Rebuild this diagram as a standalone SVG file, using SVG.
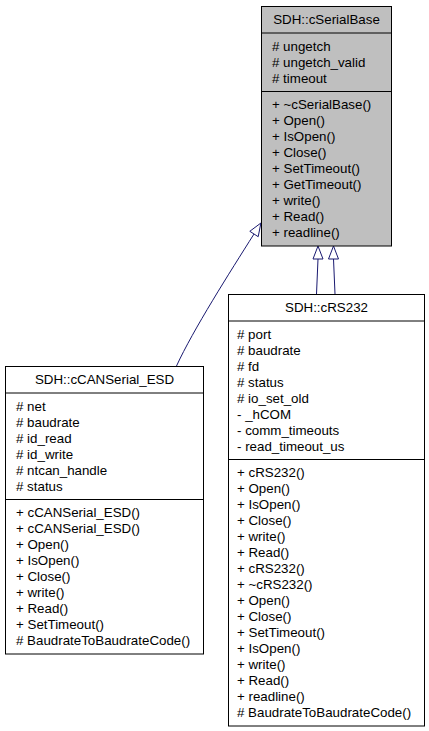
<svg xmlns="http://www.w3.org/2000/svg" width="429" height="731" viewBox="0 0 429 731">
<style>
text{font-family:"Liberation Sans",Arial,Helvetica,sans-serif;font-size:13.33px;fill:#000}
.t{text-anchor:middle}
.box{stroke:#000;stroke-width:1}
.div{stroke:#000;stroke-width:1}
.edge{fill:none;stroke:#191970;stroke-width:1}
.head{fill:#fff;stroke:#191970;stroke-width:1}
</style>
<rect width="429" height="731" fill="#fff"/>
<g id="connectors">
<path class="edge" d="M176.5,366 C193,330 230,272 254,234"/>
<polygon class="head" points="260.9,223 258.2,236.7 249.8,231.3"/>
<path class="edge" d="M316.5,294 L318,259"/>
<polygon class="head" points="318,246 313,259 323,259"/>
<path class="edge" d="M335,294 L333.5,259"/>
<polygon class="head" points="333.5,246 328.5,259 338.5,259"/>
</g>
<g id="cSerialBase">
<rect class="box" x="261.5" y="6.5" width="130" height="239.5" fill="#bfbfbf"/>
<line class="div" x1="261.5" y1="33" x2="391.5" y2="33"/>
<line class="div" x1="261.5" y1="91.5" x2="391.5" y2="91.5"/>
<text class="t" x="326.5" y="24">SDH::cSerialBase</text>
<text x="272" y="51"># ungetch</text>
<text x="272" y="67"># ungetch_valid</text>
<text x="272" y="83"># timeout</text>
<text x="272" y="109">+ ~cSerialBase()</text>
<text x="272" y="125">+ Open()</text>
<text x="272" y="141">+ IsOpen()</text>
<text x="272" y="157">+ Close()</text>
<text x="272" y="173">+ SetTimeout()</text>
<text x="272" y="189">+ GetTimeout()</text>
<text x="272" y="205">+ write()</text>
<text x="272" y="221">+ Read()</text>
<text x="272" y="237">+ readline()</text>
</g>
<g id="cRS232">
<rect class="box" x="228.5" y="294.5" width="196" height="431.5" fill="#fff"/>
<line class="div" x1="228.5" y1="321" x2="424.5" y2="321"/>
<line class="div" x1="228.5" y1="459.5" x2="424.5" y2="459.5"/>
<text class="t" x="326.5" y="312">SDH::cRS232</text>
<text x="237" y="338.5"># port</text>
<text x="237" y="354.5"># baudrate</text>
<text x="237" y="370.5"># fd</text>
<text x="237" y="386.5"># status</text>
<text x="237" y="402.5"># io_set_old</text>
<text x="237" y="418.5">- _hCOM</text>
<text x="237" y="434.5">- comm_timeouts</text>
<text x="237" y="450.5">- read_timeout_us</text>
<text x="237" y="477">+ cRS232()</text>
<text x="237" y="493">+ Open()</text>
<text x="237" y="509">+ IsOpen()</text>
<text x="237" y="525">+ Close()</text>
<text x="237" y="541">+ write()</text>
<text x="237" y="557">+ Read()</text>
<text x="237" y="573">+ cRS232()</text>
<text x="237" y="589">+ ~cRS232()</text>
<text x="237" y="605">+ Open()</text>
<text x="237" y="621">+ Close()</text>
<text x="237" y="637">+ SetTimeout()</text>
<text x="237" y="653">+ IsOpen()</text>
<text x="237" y="669">+ write()</text>
<text x="237" y="685">+ Read()</text>
<text x="237" y="701">+ readline()</text>
<text x="237" y="717"># BaudrateToBaudrateCode()</text>
</g>
<g id="cCANSerial_ESD">
<rect class="box" x="5.5" y="366.5" width="198" height="287.5" fill="#fff"/>
<line class="div" x1="5.5" y1="393" x2="203.5" y2="393"/>
<line class="div" x1="5.5" y1="499.5" x2="203.5" y2="499.5"/>
<text class="t" x="104.5" y="384">SDH::cCANSerial_ESD</text>
<text x="16" y="410.5"># net</text>
<text x="16" y="426.5"># baudrate</text>
<text x="16" y="442.5"># id_read</text>
<text x="16" y="458.5"># id_write</text>
<text x="16" y="474.5"># ntcan_handle</text>
<text x="16" y="490.5"># status</text>
<text x="16" y="517">+ cCANSerial_ESD()</text>
<text x="16" y="533">+ cCANSerial_ESD()</text>
<text x="16" y="549">+ Open()</text>
<text x="16" y="565">+ IsOpen()</text>
<text x="16" y="581">+ Close()</text>
<text x="16" y="597">+ write()</text>
<text x="16" y="613">+ Read()</text>
<text x="16" y="629">+ SetTimeout()</text>
<text x="16" y="645"># BaudrateToBaudrateCode()</text>
</g>
</svg>
